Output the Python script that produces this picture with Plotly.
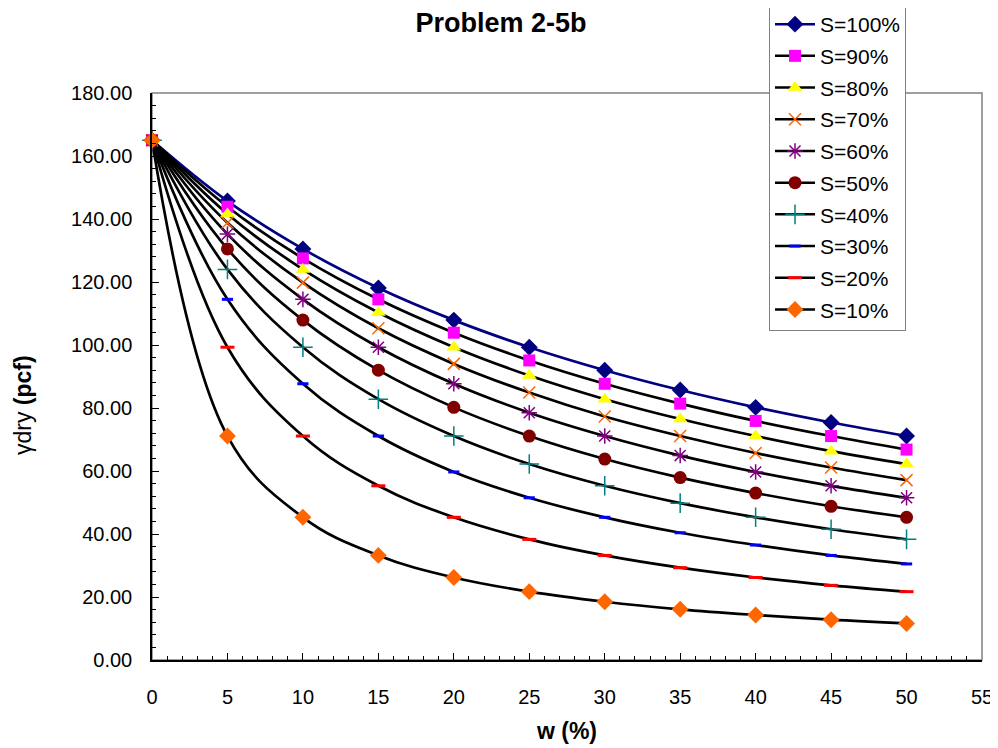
import plotly.graph_objects as go

# Water content (%)
w = [0, 5, 10, 15, 20, 25, 30, 35, 40, 45, 50]

# Dry unit weight (pcf) per degree of saturation
s100 = [165.0, 145.7, 130.5, 118.1, 107.9, 99.3, 92.0, 85.7, 80.2, 75.4, 71.1]
s90 = [165.0, 143.9, 127.5, 114.5, 103.9, 95.1, 87.7, 81.4, 75.9, 71.1, 66.8]
s80 = [165.0, 141.6, 124.0, 110.3, 99.3, 90.3, 82.8, 76.5, 71.1, 66.3, 62.2]
s70 = [165.0, 138.8, 119.8, 105.3, 94.0, 84.9, 77.3, 71.1, 65.7, 61.1, 57.1]
s60 = [165.0, 135.2, 114.5, 99.3, 87.7, 78.5, 71.1, 64.9, 59.7, 55.3, 51.5]
s50 = [165.0, 130.5, 107.9, 92.0, 80.2, 71.1, 63.8, 57.9, 53.0, 48.8, 45.3]
s40 = [165.0, 124.0, 99.3, 82.8, 71.1, 62.2, 55.3, 49.8, 45.3, 41.5, 38.3]
s30 = [165.0, 114.5, 87.7, 71.1, 59.7, 51.5, 45.3, 40.4, 36.5, 33.2, 30.5]
s20 = [165.0, 99.3, 71.1, 55.3, 45.3, 38.3, 33.2, 29.3, 26.2, 23.7, 21.7]
s10 = [165.0, 71.1, 45.3, 33.2, 26.2, 21.7, 18.5, 16.1, 14.3, 12.8, 11.6]

names = ["S=100%", "S=90%", "S=80%", "S=70%", "S=60%",
         "S=50%", "S=40%", "S=30%", "S=20%", "S=10%"]
series = [s100, s90, s80, s70, s60, s50, s40, s30, s20, s10]

line_colors = ["#000080"] + ["#000000"] * 9
markers = [
    dict(symbol="diamond", color="#000080", size=13),
    dict(symbol="square", color="#FF00FF", size=12),
    dict(symbol="triangle-up", color="#FFFF00", size=13),
    dict(symbol="x-thin-open", color="#FF6600", size=12, line=dict(width=1.5, color="#FF6600")),
    dict(symbol="asterisk-open", color="#800080", size=13, line=dict(width=1.5, color="#800080")),
    dict(symbol="circle", color="#800000", size=13),
    dict(symbol="cross-thin-open", color="#008080", size=14, line=dict(width=1.5, color="#008080")),
    dict(symbol="line-ew-open", color="#0000FF", size=8, line=dict(width=3, color="#0000FF")),
    dict(symbol="line-ew-open", color="#FF0000", size=10, line=dict(width=3, color="#FF0000")),
    dict(symbol="diamond", color="#FF6600", size=13),
]

FONT = "Arial, Liberation Sans, sans-serif"
fig = go.Figure()

# lines first (under all markers)
for name, ys, lc in zip(names, series, line_colors):
    fig.add_trace(go.Scatter(
        x=w, y=ys, mode="lines", line=dict(color=lc, width=2.7, shape="spline", smoothing=1.1),
        showlegend=False, hoverinfo="skip", cliponaxis=False))

# markers
for name, ys, mk in zip(names, series, markers):
    fig.add_trace(go.Scatter(
        x=w, y=ys, mode="markers", marker=mk, name=name,
        showlegend=False, cliponaxis=False))

# legend entries
for i, (name, lc, mk) in enumerate(zip(names, line_colors, markers)):
    fig.add_trace(go.Scatter(
        x=[None], y=[None], mode="lines+markers", name=name,
        line=dict(color=lc, width=2.5), marker=mk,
        legendgroup="g%d" % i, showlegend=True))

# page is drawn with an 8px body offset, so the figure is 990x740 placed at (8, 8)
fig.update_layout(
    width=990, height=740,
    margin=dict(l=144, r=16, t=85, b=88, autoexpand=False),
    paper_bgcolor="white", plot_bgcolor="white",
    font=dict(family=FONT, color="black", size=20),
    title=dict(text="<b>Problem 2-5b</b>", x=493 / 990, xanchor="center",
               y=1 - 15 / 740, yanchor="middle", yref="container",
               font=dict(size=27, family=FONT, color="black")),
    legend=dict(x=(769 - 152) / 830, y=(660 - 3) / 567, xanchor="left", yanchor="top",
                bgcolor="white", bordercolor="#808080", borderwidth=1,
                font=dict(size=21, family=FONT), itemwidth=40,
                tracegroupgap=1.4),
    showlegend=True,
)

fig.update_xaxes(
    range=[0, 55], dtick=5, tick0=0, showgrid=False, zeroline=False,
    showline=True, linecolor="black", linewidth=1.5,
    ticks="inside", ticklen=7, tickcolor="black", tickwidth=1,
    minor=dict(dtick=1, ticks="inside", ticklen=4, tickcolor="black", showgrid=False),
    tickfont=dict(size=20), ticklabelstandoff=18,
    title=dict(text="<b>w (%)</b>", font=dict(size=23), standoff=16),
    automargin=False,
)
fig.update_yaxes(
    range=[0, 180], dtick=20, tick0=0, tickformat=".2f", showgrid=False, zeroline=False,
    showline=True, linecolor="black", linewidth=1.5,
    ticks="inside", ticklen=7, tickcolor="black", tickwidth=1,
    minor=dict(dtick=4, ticks="inside", ticklen=4, tickcolor="black", showgrid=False),
    tickfont=dict(size=20), ticklabelstandoff=14,
    automargin=False,
)

# y-axis title placed where the reference shows it (slightly below the axis centre)
fig.add_annotation(
    text="γdry <b>(pcf)</b>", xref="paper", yref="paper",
    x=(15 - 144) / 830, y=(652 - 397) / 567, xanchor="center", yanchor="middle",
    textangle=-90, showarrow=False, font=dict(size=23, family=FONT, color="black"))

fig.add_shape(type="rect", xref="paper", yref="paper", x0=0, y0=0, x1=1, y1=1,
              line=dict(color="#808080", width=1.5), layer="below")

fig.write_html("out.html")
